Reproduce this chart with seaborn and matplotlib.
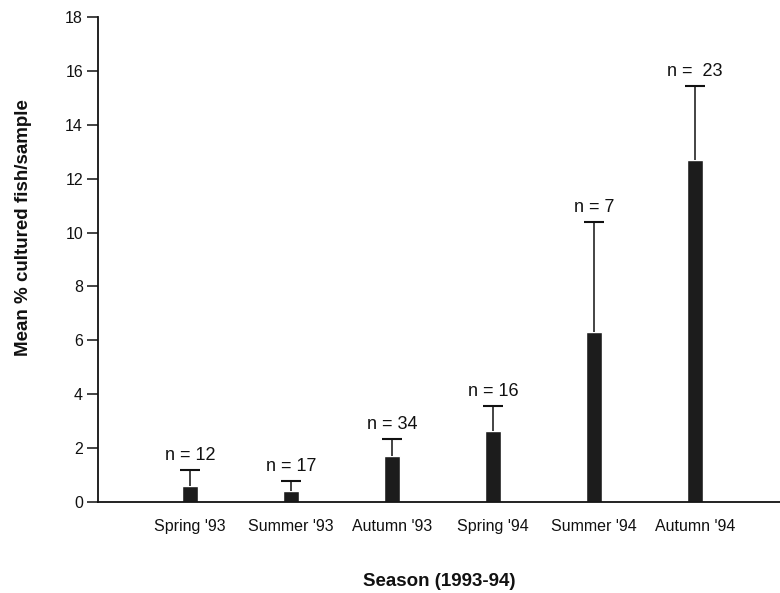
import matplotlib
matplotlib.use("Agg")
import matplotlib.pyplot as plt
import seaborn as sns
import pandas as pd
import numpy as np

seasons = ["Spring '93", "Summer '93", "Autumn '93", "Spring '94", "Summer '94", "Autumn '94"]
means = [0.58, 0.42, 1.70, 2.63, 6.30, 12.70]
upper_err = [0.60, 0.36, 0.63, 0.95, 4.10, 2.75]
n_labels = ["n = 12", "n = 17", "n = 34", "n = 16", "n = 7", "n =  23"]
yticks = [0, 2, 4, 6, 8, 10, 12, 14, 16, 18]

sns.set_style("ticks")
plt.rcParams['font.family'] = ['Liberation Sans', 'DejaVu Sans']

df = pd.DataFrame({"season": seasons, "mean": means})
ink = "#111111"

fig = plt.figure(figsize=(7.8, 5.93), dpi=100)
ax = fig.add_axes([0.126, 0.1535, 0.874, 0.8178])

sns.barplot(data=df, x="season", y="mean", color="#1c1c1c", width=0.16,
            errorbar=None, ax=ax, saturation=1)

xs = np.arange(len(seasons))
eb = ax.errorbar(xs, means, yerr=[np.zeros(len(means)), upper_err], fmt="none",
                 ecolor=ink, elinewidth=1.1, capsize=7, capthick=1.5)
# show only the upper caps
eb[1][0].set_visible(False)

for x, m, e, lab in zip(xs, means, upper_err, n_labels):
    ax.text(x, m + e + 0.22, lab, ha="center", va="bottom", fontsize=13, color=ink)

ax.set_ylim(0, 18)
ax.set_xlim(-0.91, 5.84)
ax.set_yticks(yticks)
ax.set_yticklabels([str(t) for t in yticks], fontsize=11.5)
ax.tick_params(axis="y", length=8, width=1.1, pad=3, colors=ink)
ax.tick_params(axis="x", length=0, pad=12, labelsize=11.5, colors=ink)

ax.set_xlabel("Season (1993-94)", fontsize=13.5, fontweight="bold", labelpad=28, color=ink)
ax.set_ylabel("Mean % cultured fish/sample", fontsize=13.5, fontweight="bold", color=ink)
ax.yaxis.set_label_coords(-0.097, 0.565)

for s in ["top", "right"]:
    ax.spines[s].set_visible(False)
for s in ["left", "bottom"]:
    ax.spines[s].set_linewidth(1.3)
    ax.spines[s].set_color(ink)

fig.savefig("out.png", dpi=100)
